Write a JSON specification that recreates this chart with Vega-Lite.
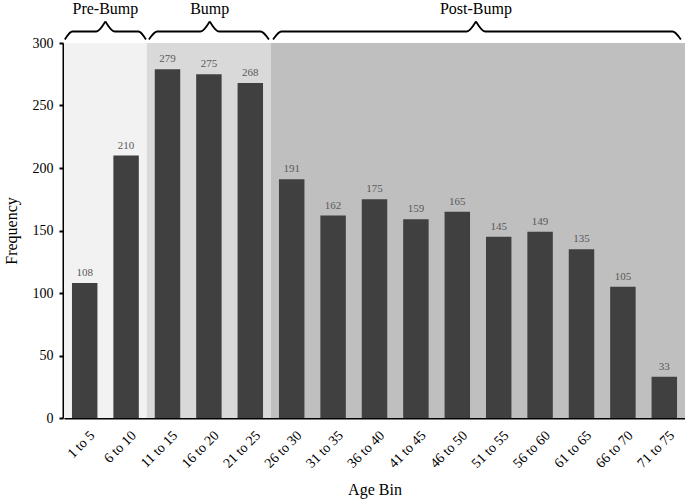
{
  "$schema": "https://vega.github.io/schema/vega-lite/v6.json",
  "width": 621,
  "height": 375,
  "autosize": {"type": "none"},
  "padding": {"left": 64, "top": 43, "right": 0, "bottom": 86},
  "background": "white",
  "config": {
    "view": {"stroke": null},
    "font": "Liberation Serif",
    "axis": {"labelFont": "Liberation Serif", "titleFont": "Liberation Serif", "titleFontWeight": "normal", "labelColor": "black", "titleColor": "black", "grid": false}
  },
  "datasets": {
    "bins": [
      {"bin": "1 to 5", "count": 108},
      {"bin": "6 to 10", "count": 210},
      {"bin": "11 to 15", "count": 279},
      {"bin": "16 to 20", "count": 275},
      {"bin": "21 to 25", "count": 268},
      {"bin": "26 to 30", "count": 191},
      {"bin": "31 to 35", "count": 162},
      {"bin": "36 to 40", "count": 175},
      {"bin": "41 to 45", "count": 159},
      {"bin": "46 to 50", "count": 165},
      {"bin": "51 to 55", "count": 145},
      {"bin": "56 to 60", "count": 149},
      {"bin": "61 to 65", "count": 135},
      {"bin": "66 to 70", "count": 105},
      {"bin": "71 to 75", "count": 33}
    ],
    "regions": [
      {"region": "Pre-Bump", "start": 0, "end": 2, "mid": 1.0},
      {"region": "Bump", "start": 2, "end": 5, "mid": 3.52},
      {"region": "Post-Bump", "start": 5, "end": 15, "mid": 9.95}
    ],
    "braces": [
      {"part": "PreL", "bx": 0.02, "by": 302.8},
      {"part": "PreL", "bx": 0.2, "by": 309.2},
      {"part": "PreL", "bx": 0.78, "by": 309.2},
      {"part": "PreL", "bx": 1.0, "by": 317.2},
      {"part": "PreR", "bx": 1.0, "by": 317.2},
      {"part": "PreR", "bx": 1.22, "by": 309.2},
      {"part": "PreR", "bx": 1.8, "by": 309.2},
      {"part": "PreR", "bx": 1.98, "by": 302.8},
      {"part": "BumpL", "bx": 2.05, "by": 302.8},
      {"part": "BumpL", "bx": 2.25, "by": 309.2},
      {"part": "BumpL", "bx": 3.3, "by": 309.2},
      {"part": "BumpL", "bx": 3.52, "by": 317.2},
      {"part": "BumpR", "bx": 3.52, "by": 317.2},
      {"part": "BumpR", "bx": 3.74, "by": 309.2},
      {"part": "BumpR", "bx": 4.75, "by": 309.2},
      {"part": "BumpR", "bx": 4.95, "by": 302.8},
      {"part": "PostL", "bx": 5.05, "by": 302.8},
      {"part": "PostL", "bx": 5.25, "by": 309.2},
      {"part": "PostL", "bx": 9.73, "by": 309.2},
      {"part": "PostL", "bx": 9.95, "by": 317.2},
      {"part": "PostR", "bx": 9.95, "by": 317.2},
      {"part": "PostR", "bx": 10.17, "by": 309.2},
      {"part": "PostR", "bx": 14.7, "by": 309.2},
      {"part": "PostR", "bx": 14.9, "by": 302.8}
    ]
  },
  "layer": [
    {
      "layer": [
        {
          "data": {"name": "regions"},
          "mark": {"type": "rect"},
          "encoding": {
            "x": {"field": "start", "type": "quantitative", "scale": {"domain": [0, 15], "nice": false, "zero": false}, "axis": null},
            "x2": {"field": "end"},
            "y": {"datum": 300, "type": "quantitative", "scale": {"domain": [0, 300], "nice": false}},
            "y2": {"datum": 0},
            "color": {"field": "region", "type": "nominal", "scale": {"domain": ["Pre-Bump", "Bump", "Post-Bump"], "range": ["#f2f2f2", "#d9d9d9", "#bfbfbf"]}, "legend": null}
          }
        },
        {
          "data": {"name": "braces"},
          "mark": {"type": "line", "interpolate": "monotone", "stroke": "black", "strokeWidth": 1.8},
          "encoding": {
            "x": {"field": "bx", "type": "quantitative"},
            "y": {"field": "by", "type": "quantitative"},
            "detail": {"field": "part", "type": "nominal"}
          }
        },
        {
          "data": {"name": "regions"},
          "mark": {"type": "text", "fontSize": 16, "font": "Liberation Serif", "color": "black", "baseline": "middle"},
          "encoding": {
            "x": {"field": "mid", "type": "quantitative"},
            "y": {"datum": 327.5, "type": "quantitative"},
            "text": {"field": "region"}
          }
        }
      ]
    },
    {
      "data": {"name": "bins"},
      "layer": [
        {
          "mark": {"type": "bar", "color": "#404040"},
          "encoding": {
            "x": {
              "field": "bin", "type": "nominal", "sort": null,
              "scale": {"paddingInner": 0.385, "paddingOuter": 0.1925},
              "axis": {"orient": "bottom", "title": "Age Bin", "titleFontSize": 16, "titlePadding": 11, "labelAngle": -45, "labelAlign": "right", "labelBaseline": "top", "labelFontSize": 14, "labelPadding": 10, "labelOffset": 3, "ticks": false, "domainColor": "black", "domainWidth": 2}
            },
            "y": {
              "field": "count", "type": "quantitative",
              "scale": {"domain": [0, 300], "nice": false},
              "axis": {"title": "Frequency", "titleFontSize": 16, "titlePadding": 13, "values": [0, 50, 100, 150, 200, 250, 300], "labelFontSize": 14, "labelPadding": 6, "tickSize": 4, "tickColor": "black", "tickWidth": 2, "domainColor": "black", "domainWidth": 2, "offset": 1}
            }
          }
        },
        {
          "mark": {"type": "text", "fontSize": 11, "font": "Liberation Serif", "color": "#595959", "baseline": "alphabetic", "dy": -7},
          "encoding": {
            "x": {"field": "bin", "type": "nominal", "sort": null},
            "y": {"field": "count", "type": "quantitative"},
            "text": {"field": "count", "type": "quantitative"}
          }
        }
      ]
    }
  ],
  "resolve": {"scale": {"x": "independent"}}
}
